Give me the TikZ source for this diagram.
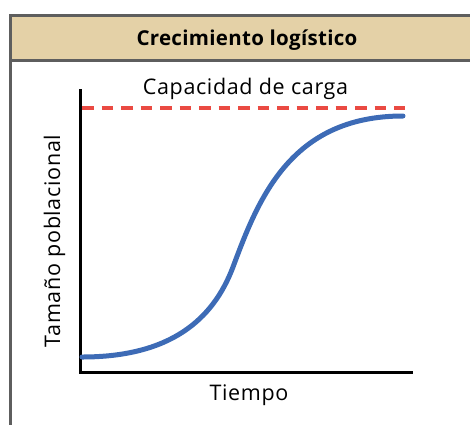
\documentclass[tikz,border=0pt]{standalone}
\usepackage{fontspec}
\setmainfont{Open Sans}[LetterSpace=3]
\usetikzlibrary{positioning}
\definecolor{framegray}{HTML}{5E5E5E}
\definecolor{headbeige}{HTML}{E4D1A7}
\definecolor{curveblue}{HTML}{3D6BB6}
\definecolor{limitred}{HTML}{EA4A42}
\tikzset{font={\fontsize{21.5pt}{25}\selectfont}}
\tikzset{
  txt/.style={inner sep=0pt, anchor=base},
  axisline/.style={line width=3pt, black},
  limitline/.style={line width=3.5pt, limitred, dash pattern=on 11.5pt off 8pt},
  growth/.style={line width=5pt, curveblue, line cap=round},
}

\begin{document}
\begin{tikzpicture}[x=1pt, y=-1pt]
  \useasboundingbox (0,0) rectangle (470,424);
  \clip (0,0) rectangle (470,424);

  % Frame and header
  \fill[headbeige] (10.5,15) rectangle (490,60);
  \draw[framegray, line width=3pt] (10.5,440) -- (10.5,15) -- (490,15);
  \draw[framegray, line width=3pt] (10.5,60) -- (490,60);

  % Define nodes
  \node[txt, font={\fontsize{20.5pt}{24}\selectfont\bfseries\addfontfeatures{LetterSpace=1.5}}] (title) at (247,45) {Crecimiento logístico};
  \node[txt] (capacity) at (245.5,94) {Capacidad de carga};
  \node[txt] (timelabel) at (249,400) {Tiempo};
  \node[txt, rotate=90] (sizelabel) at (60,241) {Tamaño poblacional};

  \coordinate (ytop) at (80,89);
  \coordinate (origin) at (80,372);
  \coordinate (xend) at (413,372);
  \coordinate (kstart) at (82,108);
  \coordinate (kend) at (405,108);
  \coordinate (c0) at (82,357);
  \coordinate (c1) at (233,267);
  \coordinate (c2) at (403,116);

  % Connect the nodes
  \draw[axisline] (ytop) -- (origin) -- (xend);
  \draw[limitline] (kstart) -- (kend);
  \draw[growth] (c0) .. controls (170,357) and (213,320) .. (c1)
                     .. controls (258,200) and (290,116) .. (c2);
\end{tikzpicture}
\end{document}
